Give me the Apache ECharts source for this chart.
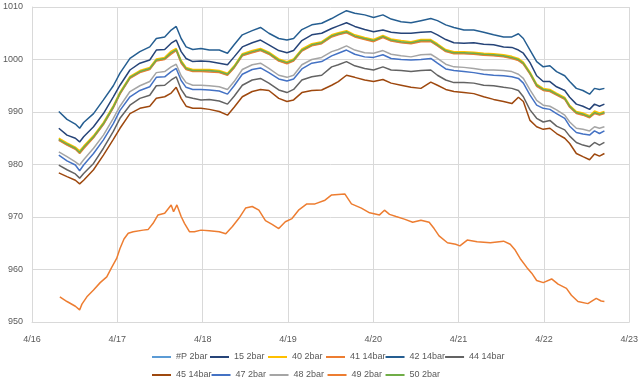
<!DOCTYPE html>
<html>
<head>
<meta charset="utf-8">
<script src="https://cdn.jsdelivr.net/npm/echarts@6/dist/echarts.min.js"></script>
<style>
html,body{margin:0;padding:0;background:#fff;}
#chart{width:641px;height:383px;}
</style>
</head>
<body>
<div id="chart"></div>
<script>
// x values: days since 4/16 00:00
const xTickLabels = ['4/16','4/17','4/18','4/19','4/20','4/21','4/22','4/23'];
const yTicks = [950, 960, 970, 980, 990, 1000, 1010];

const seriesNames = ['#P 2bar','15 2bar','40 2bar','41 14bar','42 14bar','44 14bar','45 14bar','47 2bar','48 2bar','49 2bar','50 2bar'];

const tUpper = [0.314,0.410,0.508,0.558,0.605,0.721,0.837,0.953,1.031,1.148,
  1.264,1.380,1.457,1.555,1.631,1.690,1.748,1.806,1.884,1.980,
  2.078,2.194,2.291,2.369,2.465,2.581,2.678,2.776,2.892,2.988,
  3.066,3.163,3.279,3.395,
  3.512,3.590,3.686,3.783,3.899,4.003,4.113,4.209,4.326,4.442,
  4.558,4.674,4.752,4.849,4.945,5.062,5.178,5.294,5.410,5.527,
  5.624,5.701,5.759,5.837,5.915,5.992,6.070,6.148,6.244,6.302,
  6.380,6.457,6.535,6.593,6.651,6.709];

const vP2 = [984.7,983.8,983.0,982.2,983.2,985.2,987.7,990.9,993.5,996.5,
  997.6,998.2,999.8,1000.1,1001.2,1001.8,999.5,998.2,997.8,997.8,
  997.8,997.6,997.1,998.5,1000.8,1001.4,1001.8,1001.1,999.8,999.3,
  999.8,1001.7,1002.7,1003.1,
  1004.4,1004.8,1005.2,1004.4,1003.9,1003.5,1004.3,1003.6,1003.3,1003.1,
  1003.5,1003.5,1002.7,1001.6,1001.2,1001.2,1001.1,1000.9,1000.8,1000.6,
  1000.3,999.9,999.2,997.3,995.0,994.2,994.0,993.3,992.5,991.0,
  989.8,989.5,989.0,989.8,989.5,989.8];

const v15 = [986.9,985.6,985.0,984.3,985.3,987.2,989.7,992.9,995.1,998.0,
  999.3,999.9,1001.8,1001.9,1003.1,1003.7,1001.5,1000.2,999.6,999.7,
  999.6,999.3,999.0,1000.5,1002.4,1003.2,1003.7,1002.8,1001.7,1001.3,
  1001.7,1003.6,1004.7,1005.0,
  1005.9,1006.4,1007.0,1006.3,1005.7,1005.3,1005.6,1005.2,1005.0,1005.0,
  1005.2,1005.3,1004.7,1003.8,1003.2,1003.1,1003.2,1002.9,1002.8,1002.4,
  1002.3,1001.8,1001.2,999.4,996.9,995.8,995.8,994.8,994.1,992.8,
  991.5,991.1,990.5,991.5,991.1,991.5];

const v40 = [985.0,984.1,983.3,982.6,983.5,985.5,988.0,991.2,993.8,996.8,
  997.9,998.5,1000.1,1000.4,1001.6,1002.1,999.8,998.5,998.1,998.1,
  998.1,997.9,997.4,998.8,1001.1,1001.7,1002.1,1001.4,1000.1,999.6,
  1000.1,1002.0,1003.0,1003.4,
  1004.7,1005.1,1005.5,1004.7,1004.2,1003.8,1004.6,1003.9,1003.6,1003.4,
  1003.8,1003.8,1003.0,1001.9,1001.5,1001.5,1001.4,1001.2,1001.1,1000.9,
  1000.6,1000.2,999.5,997.6,995.3,994.5,994.3,993.6,992.8,991.3,
  990.1,989.8,989.3,990.2,989.8,990.1];

const v41 = [984.6,983.7,982.9,982.1,983.0,985.1,987.6,990.8,993.4,996.4,
  997.5,998.1,999.7,1000.0,1001.0,1001.7,999.3,998.1,997.7,997.7,
  997.6,997.5,997.0,998.4,1000.7,1001.3,1001.7,1001.0,999.7,999.2,
  999.7,1001.6,1002.6,1003.0,
  1004.3,1004.7,1005.1,1004.3,1003.8,1003.4,1004.2,1003.5,1003.2,1003.0,
  1003.4,1003.4,1002.6,1001.5,1001.1,1001.1,1001.0,1000.8,1000.7,1000.5,
  1000.2,999.8,999.1,997.2,994.9,994.1,993.9,993.2,992.4,990.9,
  989.7,989.4,988.9,989.7,989.4,989.7];

const v42 = [990.1,988.6,987.7,986.9,988.0,989.7,992.3,995.0,997.4,1000.2,
  1001.5,1002.4,1004.0,1004.3,1005.6,1006.3,1004.0,1002.4,1001.9,1002.1,
  1001.8,1001.8,1001.2,1002.8,1004.7,1005.5,1006.1,1005.0,1004.0,1003.7,
  1004.0,1005.7,1006.6,1006.9,
  1007.8,1008.5,1009.3,1008.8,1008.5,1008.0,1008.5,1007.7,1007.2,1007.0,
  1007.4,1007.8,1007.4,1006.6,1006.1,1005.6,1005.6,1005.2,1004.7,1004.3,
  1004.3,1004.9,1004.0,1001.8,999.6,998.6,998.8,997.7,996.9,995.8,
  994.5,994.1,993.4,994.5,994.3,994.5];

const v44 = [979.9,979.0,978.2,977.4,978.3,980.2,983.1,986.3,988.8,991.3,
  992.6,993.2,995.0,995.1,996.1,996.7,994.3,992.9,992.6,992.3,
  992.4,992.1,991.5,993.0,995.1,996.1,996.4,995.5,994.2,993.7,
  994.3,996.1,996.7,997.0,
  998.6,999.0,999.6,998.8,998.3,998.0,998.6,998.0,997.9,997.7,
  997.9,998.0,997.0,996.1,995.6,995.6,995.5,995.1,995.0,994.7,
  994.5,994.1,992.9,990.4,988.8,988.1,988.4,987.3,986.6,985.4,
  984.2,983.7,983.4,984.2,983.7,984.2];

const v45 = [978.4,977.7,977.0,976.3,977.0,979.0,981.8,984.8,986.9,989.7,
  990.7,991.1,992.6,992.9,993.6,994.7,992.6,991.1,990.7,990.7,
  990.5,990.1,989.4,990.9,992.9,993.9,994.3,994.1,992.6,992.0,
  992.3,993.7,994.1,994.2,
  995.1,995.8,997.0,996.6,996.1,995.8,996.2,995.5,995.1,994.7,
  994.5,995.7,995.1,994.3,993.9,993.7,993.5,992.9,992.4,992.0,
  991.6,992.8,992.0,988.4,987.2,986.7,986.9,985.9,985.0,984.0,
  982.1,981.5,980.9,982.0,981.6,982.1];

const v47 = [981.8,980.7,979.9,978.8,979.9,982.1,984.7,987.8,990.3,992.9,
  994.1,994.8,996.6,996.7,997.7,998.3,996.0,994.7,994.3,994.3,
  994.2,994.0,993.4,995.0,997.2,998.1,998.4,997.5,996.3,995.9,
  996.3,998.2,999.3,999.6,
  1000.7,1001.2,1001.8,1001.0,1000.5,1000.4,1000.9,1000.2,1000.0,999.9,
  1000.0,1000.2,999.3,998.2,997.9,997.7,997.5,997.2,997.0,996.9,
  996.7,996.4,995.5,993.2,991.3,990.7,990.5,989.7,988.8,987.3,
  986.1,985.8,985.6,986.4,985.9,986.4];

const v48 = [982.4,981.5,980.5,979.9,980.9,983.1,985.6,988.8,991.1,993.9,
  995.0,995.8,997.5,997.7,998.6,999.1,996.9,995.6,995.1,995.1,
  995.0,994.8,994.3,995.8,998.1,999.0,999.3,998.3,997.0,996.6,
  997.0,999.0,1000.0,1000.4,
  1001.5,1001.9,1002.6,1001.8,1001.3,1001.2,1001.7,1001.0,1000.7,1000.5,
  1000.9,1001.0,1000.2,999.1,998.6,998.5,998.3,998.0,998.0,997.9,
  997.7,997.2,996.4,994.2,992.2,991.3,991.1,990.4,989.4,988.1,
  986.9,986.7,986.4,987.2,986.9,987.2];

const v50 = [984.8,983.9,983.1,982.3,983.3,985.3,987.8,991.0,993.6,996.6,
  997.7,998.3,999.9,1000.2,1001.3,1001.9,999.6,998.3,997.9,997.9,
  997.9,997.7,997.2,998.6,1000.9,1001.5,1001.9,1001.2,999.9,999.4,
  999.9,1001.8,1002.8,1003.2,
  1004.5,1004.9,1005.3,1004.5,1004.0,1003.6,1004.4,1003.7,1003.4,1003.2,
  1003.6,1003.6,1002.8,1001.7,1001.3,1001.3,1001.2,1001.0,1000.9,1000.7,
  1000.4,1000.0,999.3,997.4,995.1,994.3,994.1,993.4,992.6,991.1,
  989.9,989.6,989.1,989.9,989.6,989.9];

const t49 = [0.326,0.410,0.508,0.558,0.585,0.643,0.721,0.799,0.876,0.934,
  0.992,1.031,1.078,1.128,1.186,1.302,1.360,1.419,1.477,1.555,
  1.631,1.659,1.698,1.748,1.787,1.845,1.903,1.980,2.078,2.194,
  2.271,2.349,2.427,2.503,2.581,2.659,2.736,2.814,2.892,2.969,
  3.047,3.124,3.221,3.317,3.434,3.512,3.666,3.744,3.860,3.957,
  4.073,4.131,4.190,4.267,4.364,4.462,4.558,4.655,4.713,4.771,
  4.869,4.965,5.015,5.101,5.217,5.372,5.527,5.605,5.663,5.721,
  5.799,5.857,5.915,5.992,6.090,6.166,6.264,6.322,6.399,6.515,
  6.613,6.671,6.709];

const v49 = [954.8,953.9,953.0,952.3,953.4,954.8,956.1,957.5,958.6,960.4,
  962.1,964.0,965.8,966.9,967.2,967.5,967.6,968.8,970.4,970.7,
  972.3,971.0,972.3,970.1,968.8,967.2,967.2,967.5,967.4,967.2,
  966.8,968.2,969.8,971.7,972.0,971.3,969.3,968.6,967.8,969.1,
  969.7,971.3,972.5,972.5,973.2,974.2,974.4,972.5,971.7,970.8,
  970.4,971.3,970.5,970.1,969.6,969.0,969.4,969.0,967.8,966.4,
  965.1,964.8,964.5,965.6,965.3,965.1,965.4,964.8,963.7,962.1,
  960.4,959.3,957.9,957.5,958.2,957.2,956.4,955.1,953.9,953.5,
  954.5,954.0,953.9];

const seriesValues = [vP2, v15, v40, v41, v42, v44, v45, v47, v48, v49, v50];
const seriesTimes  = [tUpper, tUpper, tUpper, tUpper, tUpper, tUpper, tUpper, tUpper, tUpper, t49, tUpper];
const seriesColors = ['#5B9BD5','#264478','#FFC000','#ED7D31','#255E91','#636363','#9E480E','#4472C4','#A5A5A5','#ED7D31','#70AD47'];

const FONT = '"Liberation Sans", Arial, sans-serif';

const series = seriesNames.map((name, i) => ({
  name: name,
  type: 'line',
  showSymbol: false,
  symbol: 'none',
  lineStyle: { width: 1.5, color: seriesColors[i] },
  itemStyle: { color: seriesColors[i] },
  data: seriesTimes[i].map((t, k) => [t, seriesValues[i][k]])
}));

const chart = echarts.init(document.getElementById('chart'), null, { renderer: 'canvas' });
chart.setOption({
  animation: false,
  backgroundColor: '#ffffff',
  grid: { left: 28, right: 11, top: 7, bottom: 61, containLabel: false },
  xAxis: {
    type: 'value',
    min: 0, max: 7, interval: 1,
    axisLine: { show: true, lineStyle: { color: '#D9D9D9', width: 1 } },
    axisTick: { show: false },
    splitLine: { show: true, lineStyle: { color: '#D9D9D9', width: 1 } },
    axisLabel: {
      margin: 13,
      color: '#595959', fontSize: 9, fontFamily: FONT,
      formatter: v => xTickLabels[Math.round(v)]
    }
  },
  yAxis: {
    type: 'value',
    min: yTicks[0], max: yTicks[yTicks.length - 1], interval: 10,
    axisLine: { show: true, lineStyle: { color: '#D9D9D9', width: 1 } },
    axisTick: { show: false },
    splitLine: { show: true, lineStyle: { color: '#D9D9D9', width: 1 } },
    axisLabel: { margin: 9, color: '#595959', fontSize: 9, fontFamily: FONT, formatter: v => String(v) }
  },
  legend: {
    data: seriesNames,
    left: 147, top: 343, width: 360,
    orient: 'horizontal',
    icon: 'rect',
    itemWidth: 19, itemHeight: 2, itemGap: 0,
    textStyle: { color: '#595959', fontSize: 9, fontFamily: FONT, width: 34, lineHeight: 18, padding: [0,0,0,0] }
  },
  series: series
});
</script>
</body>
</html>
